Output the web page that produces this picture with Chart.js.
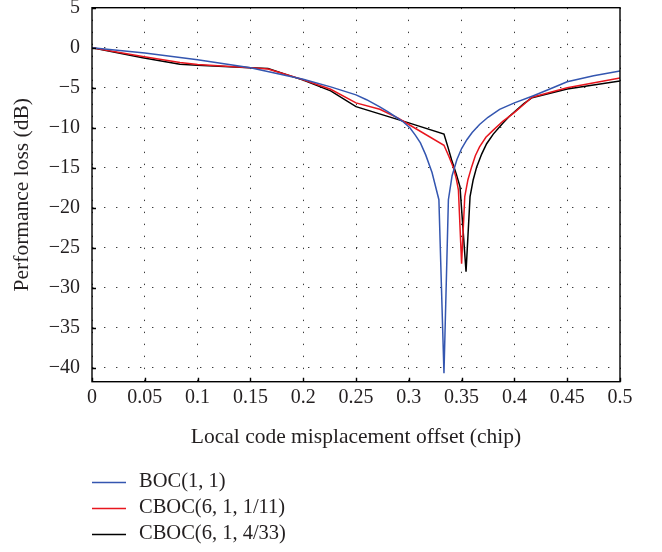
<!DOCTYPE html>
<html>
<head>
<meta charset="utf-8">
<script src="https://cdn.jsdelivr.net/npm/chart.js@4/dist/chart.umd.min.js"></script>
<style>
  html, body { margin: 0; padding: 0; background: #fff; }
  #wrap { width: 662px; height: 552px; }
</style>
</head>
<body>
<div id="wrap"><canvas id="c" width="662" height="552"></canvas></div>
<script>
// ---- data ----
const seriesLabels = ['BOC(1, 1)', 'CBOC(6, 1, 1/11)', 'CBOC(6, 1, 4/33)'];

const bocX = [0, 0.05, 0.1, 0.15, 0.2, 0.226, 0.25, 0.26, 0.2725, 0.28, 0.287, 0.294, 0.301, 0.306, 0.311, 0.316, 0.322, 0.3285, 0.3333, 0.3375, 0.341, 0.3455, 0.35, 0.355, 0.36, 0.367, 0.375, 0.386, 0.4, 0.418, 0.433, 0.45, 0.475, 0.5];
const bocY = [0, -0.65, -1.5, -2.5, -3.95, -4.9, -5.9, -6.5, -7.4, -8.0, -8.6, -9.2, -10.0, -10.9, -11.9, -13.4, -15.6, -19.0, -40.7, -19.0, -16.0, -14.0, -12.6, -11.5, -10.6, -9.6, -8.7, -7.7, -6.9, -6.0, -5.2, -4.25, -3.5, -2.9];

const cboc1X = [0, 0.048, 0.0833, 0.1, 0.15, 0.1667, 0.2, 0.226, 0.25, 0.2725, 0.29, 0.3, 0.3333, 0.338, 0.342, 0.345, 0.347, 0.35, 0.353, 0.356, 0.3595, 0.363, 0.367, 0.373, 0.38, 0.389, 0.399, 0.408, 0.4167, 0.45, 0.5];
const cboc1Y = [0, -1.1, -1.85, -2.1, -2.5, -2.66, -4.0, -5.2, -6.9, -7.7, -8.8, -9.6, -12.2, -13.6, -14.9, -16.4, -17.8, -27.0, -18.6, -16.5, -14.9, -13.5, -12.4, -11.2, -10.3, -9.2, -8.2, -7.2, -6.2, -5.0, -3.8];

const cboc2X = [0, 0.048, 0.0833, 0.1, 0.15, 0.1667, 0.2, 0.226, 0.25, 0.3, 0.3333, 0.337, 0.3405, 0.345, 0.3485, 0.3542, 0.358, 0.361, 0.3643, 0.369, 0.3737, 0.38, 0.389, 0.395, 0.402, 0.409, 0.4167, 0.45, 0.5];
const cboc2Y = [0, -1.25, -2.08, -2.2, -2.5, -2.6, -4.05, -5.4, -7.37, -9.4, -10.8, -12.4, -14.0, -15.8, -17.4, -28.0, -18.6, -16.5, -14.9, -13.3, -12.0, -10.8, -9.45, -8.6, -7.8, -7.0, -6.25, -5.16, -4.16];

const xTicks = [0, 0.05, 0.1, 0.15, 0.2, 0.25, 0.3, 0.35, 0.4, 0.45, 0.5];
const yTicks = [5, 0, -5, -10, -15, -20, -25, -30, -35, -40];

const xTitle = 'Local code misplacement offset (chip)';
const yTitle = 'Performance loss (dB)';

// ---- styles ----
const colors = ['#3456b0', '#e8161e', '#000000'];
const FONT = "'Liberation Serif', 'Times New Roman', serif";
Chart.defaults.font.family = FONT;
Chart.defaults.font.size = 20;
Chart.defaults.color = '#231f20';

function pts(xs, ys) { return xs.map((x, i) => ({ x: x, y: ys[i] })); }
function fmt(v) { return v < 0 ? '\u2212' + String(-v) : String(v); }

const frame = {
  id: 'frame',
  afterDraw(chart) {
    const ctx = chart.ctx;
    const a = chart.chartArea;
    const xs = chart.scales.x, ys = chart.scales.y;
    ctx.save();
    ctx.strokeStyle = '#000';
    ctx.lineWidth = 1.4;
    // inward tick marks
    ctx.beginPath();
    xTicks.forEach(v => {
      const px = Math.round(xs.getPixelForValue(v)) + 0.5;
      ctx.moveTo(px, a.bottom); ctx.lineTo(px, a.bottom - 4);
    });
    yTicks.forEach(v => {
      const py = Math.round(ys.getPixelForValue(v)) + 0.5;
      ctx.moveTo(a.left, py); ctx.lineTo(a.left + 4, py);
    });
    ctx.stroke();
    ctx.strokeRect(a.left, a.top, a.right - a.left, a.bottom - a.top);
    // legend
    ctx.font = '20.5px ' + FONT;
    ctx.textBaseline = 'middle';
    ctx.textAlign = 'left';
    const rows = [482, 508, 534];
    chart.data.datasets.forEach((ds, i) => {
      const y = rows[i];
      ctx.strokeStyle = ds.borderColor;
      ctx.lineWidth = 1.4;
      ctx.beginPath();
      ctx.moveTo(92, y + 0.5); ctx.lineTo(126, y + 0.5);
      ctx.stroke();
      ctx.fillStyle = '#231f20';
      ctx.fillText(ds.label, 139, y);
    });
    ctx.restore();
  }
};

new Chart(document.getElementById('c'), {
  type: 'line',
  data: {
    datasets: [
      { label: seriesLabels[0], data: pts(bocX, bocY), borderColor: colors[0] },
      { label: seriesLabels[1], data: pts(cboc1X, cboc1Y), borderColor: colors[1] },
      { label: seriesLabels[2], data: pts(cboc2X, cboc2Y), borderColor: colors[2] }
    ]
  },
  options: {
    responsive: false,
    animation: false,
    layout: { padding: { left: 0, top: 7.7, right: 42, bottom: 0 } },
    elements: {
      line: { borderWidth: 1.5, tension: 0, fill: false },
      point: { radius: 0, hoverRadius: 0 }
    },
    plugins: { legend: { display: false }, tooltip: { enabled: false } },
    scales: {
      x: {
        type: 'linear',
        min: 0, max: 0.5,
        afterBuildTicks: s => { s.ticks = xTicks.map(v => ({ value: v })); },
        afterFit: s => { s.height = 170.3; s.paddingLeft = 0; s.paddingRight = 0; },
        ticks: { autoSkip: false, maxRotation: 0, padding: 6, callback: v => fmt(v), font: { size: 20, lineHeight: 1 } },
        grid: { color: '#3a3a3a', lineWidth: 1, drawTicks: false },
        border: { display: false, dash: [1.4, 10.6] },
        title: { display: true, text: xTitle, font: { size: 21.5, lineHeight: 1.2 }, padding: { top: 0, bottom: 102 } }
      },
      y: {
        type: 'linear',
        min: -41.75, max: 5,
        afterBuildTicks: s => { s.ticks = yTicks.map(v => ({ value: v })); },
        afterFit: s => { s.width = 92; s.paddingTop = 0; s.paddingBottom = 0; },
        ticks: { autoSkip: false, padding: 12, callback: v => fmt(v), font: { size: 20, lineHeight: 1 } },
        grid: { color: '#3a3a3a', lineWidth: 1, drawTicks: false },
        border: { display: false, dash: [1.4, 10.6] },
        title: { display: true, text: yTitle, font: { size: 21.5, lineHeight: 1.2 }, padding: { top: 9, bottom: 0 } }
      }
    }
  },
  plugins: [frame]
});
</script>
</body>
</html>
